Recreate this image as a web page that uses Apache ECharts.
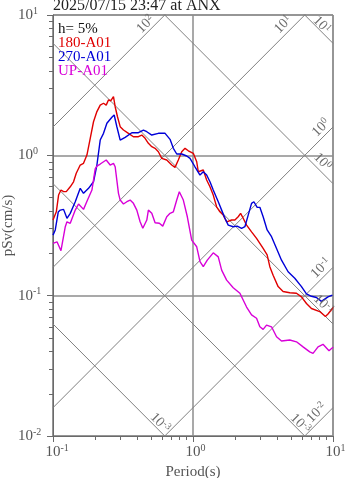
<!DOCTYPE html>
<html>
<head>
<meta charset="utf-8">
<script src="https://cdn.jsdelivr.net/npm/echarts@6/dist/echarts.min.js"></script>
<style>
html, body { margin: 0; padding: 0; background: #fff; }
#chart { width: 347px; height: 478px; }
</style>
</head>
<body>
<div id="chart"></div>
<script>
// Pseudo-velocity response spectra (h = 5%), station ANX
const titleText = '2025/07/15 23:47 at ANX';
const dampingText = 'h= 5%';
const seriesNames = ['180-A01', '270-A01', 'UP-A01'];
const seriesColors = ['#e00000', '#0000d8', '#d800d8'];

// Period (s) and pSv (cm/s) for each component
const period180 = [0.100,0.1056,0.1096,0.114,0.119,0.1244,0.1328,0.1402,0.1466,0.1565,0.1652,0.1747,0.1845,0.1947,0.2059,0.2174,0.2295,0.2399,0.249,0.259,0.2704,0.278,0.2888,0.3019,0.3187,0.3458,0.3753,0.4074,0.4308,0.4549,0.4801,0.5077,0.536,0.5658,0.5983,0.6494,0.7049,0.744,0.7856,0.8307,0.877,0.9259,0.9519,1.005,1.063,1.091,1.184,1.252,1.322,1.395,1.475,1.557,1.644,1.739,1.887,1.992,2.103,2.188,2.283,2.414,2.62,2.844,3.17,3.385,3.538,3.735,4.055,4.4,4.914,5.484,5.955,6.463,7.015,8.04,8.829,9.21,9.9,10];
const psv180 = [0.346,0.396,0.521,0.566,0.551,0.551,0.597,0.648,0.745,0.853,0.877,1.005,1.32,1.735,2.05,2.28,2.35,2.28,2.48,2.45,2.62,2.22,1.884,1.60,1.515,1.435,1.357,1.357,1.395,1.322,1.218,1.152,1.122,1.061,0.952,0.926,0.853,0.821,0.926,1.061,1.122,1.078,1.091,1.033,0.900,0.764,0.786,0.667,0.597,0.521,0.430,0.396,0.375,0.336,0.346,0.346,0.365,0.386,0.356,0.318,0.285,0.256,0.217,0.195,0.161,0.140,0.116,0.107,0.105,0.104,0.098,0.088,0.081,0.077,0.071,0.074,0.081,0.083];

const period270 = [0.1,0.1038,0.109,0.1127,0.119,0.1258,0.1328,0.1442,0.1565,0.1652,0.1794,0.1947,0.2059,0.2174,0.2295,0.2426,0.2634,0.2735,0.2859,0.3019,0.3277,0.3656,0.4074,0.4424,0.4677,0.5077,0.5658,0.6319,0.6855,0.7237,0.7652,0.8307,0.9019,0.9519,1.033,1.122,1.184,1.252,1.322,1.395,1.515,1.602,1.691,1.785,1.938,2.069,2.224,2.348,2.479,2.62,2.722,2.873,3.003,3.17,3.385,3.639,3.951,4.288,4.778,5.333,5.955,6.463,7.015,7.615,8.265,8.485,9.21,9.9,10];
const psv270 = [0.270,0.294,0.394,0.407,0.412,0.356,0.386,0.467,0.582,0.536,0.582,0.648,0.853,1.285,1.435,1.691,1.866,1.938,1.599,1.285,1.344,1.449,1.449,1.515,1.473,1.395,1.435,1.435,1.30,1.122,1.022,1.022,0.989,0.952,0.829,0.724,0.764,0.724,0.648,0.566,0.467,0.407,0.356,0.318,0.310,0.313,0.302,0.310,0.375,0.455,0.467,0.426,0.426,0.365,0.294,0.263,0.217,0.179,0.148,0.133,0.116,0.103,0.099,0.097,0.091,0.089,0.098,0.101,0.101];

const periodUP = [0.1,0.1068,0.114,0.1224,0.1258,0.1328,0.1442,0.1522,0.1652,0.1764,0.1897,0.2002,0.2059,0.2174,0.2399,0.2561,0.2704,0.278,0.2935,0.3019,0.3187,0.337,0.3556,0.3753,0.3968,0.419,0.438,0.4677,0.4801,0.5077,0.536,0.575,0.6081,0.6494,0.6855,0.7237,0.7652,0.7985,0.8529,0.9109,0.9788,1.063,1.122,1.184,1.265,1.395,1.515,1.602,1.739,1.938,2.163,2.414,2.62,2.844,3.003,3.17,3.352,3.639,3.951,4.288,4.914,5.484,6.112,6.823,7.202,7.818,8.485,9.365,9.9,10];
const psvUP = [0.236,0.242,0.209,0.310,0.336,0.328,0.407,0.450,0.412,0.480,0.566,0.80,0.839,0.867,0.926,0.853,0.877,0.829,0.536,0.480,0.450,0.467,0.480,0.455,0.407,0.336,0.302,0.346,0.407,0.386,0.331,0.328,0.313,0.365,0.386,0.396,0.480,0.550,0.480,0.365,0.249,0.223,0.175,0.161,0.179,0.202,0.189,0.152,0.129,0.114,0.104,0.083,0.073,0.069,0.060,0.0575,0.0617,0.060,0.051,0.0475,0.0483,0.0469,0.0432,0.0398,0.0388,0.0432,0.045,0.0405,0.0425,0.043];

// Tripartite guide levels: pseudo-acceleration (cm/s^2) and displacement (cm)
const accelLevels = [100, 10, 1, 0.1, 0.01];
const accelExponents = ['2', '1', '0', '-1', '-2'];
const dispLevels = [10, 1, 0.1, 0.01, 0.001];
const dispExponents = ['1', '0', '-1', '-3', '-3'];

// Axis ranges and ticks
const periodMin = 0.1, periodMax = 10;
const psvMin = 0.01, psvMax = 10;
const periodMajor = [0.1, 1, 10];
const periodMinor = [0.2,0.3,0.4,0.5,0.6,0.7,0.8,0.9,2,3,4,5,6,7,8,9];
const psvMajor = [0.01, 0.1, 1, 10];
const psvMinor = [0.02,0.03,0.04,0.05,0.06,0.07,0.08,0.09,0.2,0.3,0.4,0.5,0.6,0.7,0.8,0.9,2,3,4,5,6,7,8,9];

const FONT = '"Liberation Serif", "Times New Roman", serif';
const TEXT_GRAY = '#555';
const AXIS_GRAY = '#6a6a6a';
const GUIDE_GRAY = '#808080';
const TWO_PI = 2 * Math.PI;

function zip(xs, ys) { return xs.map((x, i) => [x, ys[i]]); }
function expOf(v) { return String(Math.round(Math.log10(v))); }

const powRich = {
  h: { fontSize: 10, fontFamily: FONT, color: 'rgba(0,0,0,0)', verticalAlign: 'top', lineHeight: 18 },
  b: { fontSize: 15, fontFamily: FONT, color: TEXT_GRAY, lineHeight: 18 },
  s: { fontSize: 10, fontFamily: FONT, color: TEXT_GRAY, verticalAlign: 'top', lineHeight: 18 }
};

function accelLine(sa) { return [[periodMin, sa * periodMin / TWO_PI], [periodMax, sa * periodMax / TWO_PI]]; }
function dispLine(sd) { return [[periodMin, TWO_PI * sd / periodMin], [periodMax, TWO_PI * sd / periodMax]]; }

const guideStyle = { color: GUIDE_GRAY, width: 1 };
const guideSeries = [];
accelLevels.forEach(sa => guideSeries.push({
  type: 'line', data: accelLine(sa), showSymbol: false, silent: true, z: 1,
  lineStyle: guideStyle, animation: false
}));
dispLevels.forEach(sd => guideSeries.push({
  type: 'line', data: dispLine(sd), showSymbol: false, silent: true, z: 1,
  lineStyle: guideStyle, animation: false
}));

const spectra = [[period180, psv180], [period270, psv270], [periodUP, psvUP]].map((d, i) => ({
  name: seriesNames[i], type: 'line', data: zip(d[0], d[1]), showSymbol: false,
  lineStyle: { color: seriesColors[i], width: 1.4 }, itemStyle: { color: seriesColors[i] },
  z: 3, animation: false
}));

function axisPair(kind) {
  const isX = kind === 'x';
  const min = isX ? periodMin : psvMin, max = isX ? periodMax : psvMax;
  const major = isX ? periodMajor : psvMajor, minor = isX ? periodMinor : psvMinor;
  const base = { type: 'log', logBase: 10, min, max, gridIndex: 0, position: isX ? 'bottom' : 'left' };
  return [
    Object.assign({}, base, {
      name: isX ? 'Period(s)' : 'pSv(cm/s)',
      nameLocation: 'middle',
      nameGap: isX ? 29 : 37,
      nameMoveOverlap: false,
      nameTextStyle: { fontFamily: FONT, fontSize: 15, color: TEXT_GRAY },
      axisLine: { show: true, lineStyle: { color: AXIS_GRAY, width: 1 } },
      axisTick: { show: true, inside: false, length: 6, customValues: major, lineStyle: { color: AXIS_GRAY } },
      axisLabel: {
        show: true, customValues: major,
        margin: isX ? 7 : 35,
        align: isX ? 'center' : 'left',
        formatter: v => isX ? `{h|${expOf(v)}}{b|10}{s|${expOf(v)}}` : `{b|10}{s|${expOf(v)}}`,
        rich: powRich
      },
      splitLine: { show: true, lineStyle: { color: '#8c8c8c', width: 1.5 } }
    }),
    Object.assign({}, base, {
      axisLine: { show: false },
      axisTick: { show: true, inside: false, length: 4, customValues: minor, lineStyle: { color: AXIS_GRAY } },
      axisLabel: { show: false },
      splitLine: { show: false }
    })
  ];
}

const chart = echarts.init(document.getElementById('chart'), null, { renderer: 'canvas' });
chart.setOption({
  animation: false,
  backgroundColor: '#fff',
  grid: {
    left: 53, top: 15, right: 14, bottom: 42,
    show: true, borderColor: AXIS_GRAY, borderWidth: 1,
    containLabel: false, outerBoundsMode: 'none'
  },
  xAxis: axisPair('x'),
  yAxis: axisPair('y'),
  series: guideSeries.concat(spectra)
});

// Labels for the guide lines, placed near each line's upper/right end
const SQ = Math.SQRT1_2;
const accelLabelPos = [[20, 7], [22, 8.5], [9, 8], [9, 8], [15, 8]];
const dispLabelPos = [[21, 5], [23, 8], [20.5, 7], [12, 5.5], [12.7, 6]];
const graphics = [];
const guideRich = {
  b: { fontSize: 14, fontFamily: FONT, fill: '#6c6c6c', lineHeight: 16 },
  s: { fontSize: 9.5, fontFamily: FONT, fill: '#6c6c6c', verticalAlign: 'top', lineHeight: 16 }
};
accelLevels.forEach((sa, i) => {
  const tEnd = Math.min(periodMax, TWO_PI * psvMax / sa);
  const p = chart.convertToPixel({ gridIndex: 0 }, [tEnd, sa * tEnd / TWO_PI]);
  const [a, q] = accelLabelPos[i];
  graphics.push({
    type: 'text', x: p[0] - a * SQ - q * SQ, y: p[1] + a * SQ - q * SQ, rotation: Math.PI / 4,
    style: { text: `{b|10}{s|${accelExponents[i]}}`, rich: guideRich, align: 'center', verticalAlign: 'middle' }, z: 5
  });
});
dispLevels.forEach((sd, i) => {
  const tEnd = Math.min(periodMax, TWO_PI * sd / psvMin);
  const p = chart.convertToPixel({ gridIndex: 0 }, [tEnd, TWO_PI * sd / tEnd]);
  const [a, q] = dispLabelPos[i];
  graphics.push({
    type: 'text', x: p[0] - a * SQ + q * SQ, y: p[1] - a * SQ - q * SQ, rotation: -Math.PI / 4,
    style: { text: `{b|10}{s|${dispExponents[i]}}`, rich: guideRich, align: 'center', verticalAlign: 'middle' }, z: 5
  });
});

// Title, damping ratio and component names
graphics.push({ type: 'text', x: 53, y: 14, style: { text: titleText, font: '16px ' + FONT, fill: '#222', verticalAlign: 'bottom' }, z: 6 });
const legendLines = [[dampingText, '#111']].concat(seriesNames.map((n, i) => [n, seriesColors[i]]));
legendLines.forEach(([t, c], i) => {
  graphics.push({ type: 'text', x: 58, y: 29 + i * 14, style: { text: t, font: '15px ' + FONT, fill: c, verticalAlign: 'middle' }, z: 6 });
});
chart.setOption({ graphic: graphics });
</script>
</body>
</html>
